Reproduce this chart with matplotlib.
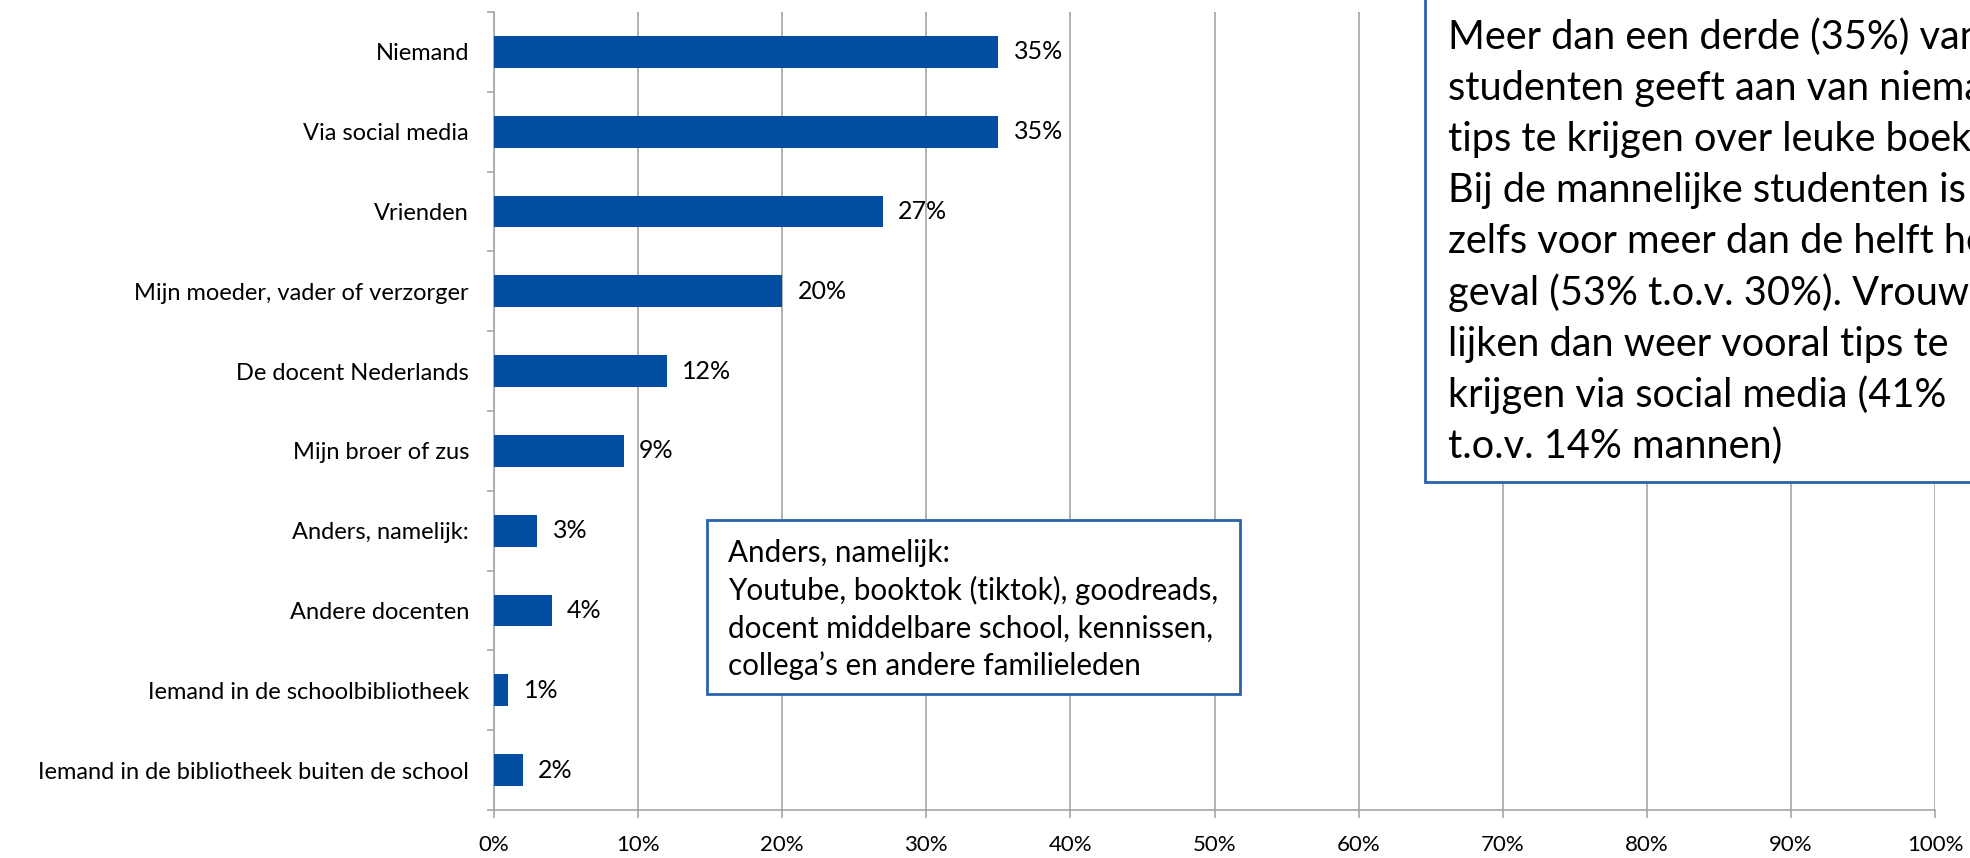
import matplotlib
matplotlib.use("Agg")
import matplotlib.pyplot as plt
from matplotlib.patches import Rectangle
from matplotlib.ticker import FixedLocator, PercentFormatter

# ── Data ───────────────────────────────────────────────────────────────
categories = [
    "Niemand",
    "Via social media",
    "Vrienden",
    "Mijn moeder, vader of verzorger",
    "De docent Nederlands",
    "Mijn broer of zus",
    "Anders, namelijk:",
    "Andere docenten",
    "Iemand in de schoolbibliotheek",
    "Iemand in de bibliotheek buiten de school",
]
percentages = [35, 35, 27, 20, 12, 9, 3, 4, 1, 2]

note_lines = [
    "Meer dan een derde (35%) van",
    "studenten geeft aan van niemand",
    "tips te krijgen over leuke boeken.",
    "Bij de mannelijke studenten is dat",
    "zelfs voor meer dan de helft het",
    "geval (53% t.o.v. 30%). Vrouwen",
    "lijken dan weer vooral tips te",
    "krijgen via social media (41%",
    "t.o.v. 14% mannen)",
]
other_lines = [
    "Anders, namelijk:",
    "Youtube, booktok (tiktok), goodreads,",
    "docent middelbare school, kennissen,",
    "collega’s en andere familieleden",
]

# ── Style ──────────────────────────────────────────────────────────────
BAR_COLOR = "#034EA2"
BOX_EDGE = "#2A62AC"
GRID = "#A6A6A6"
W, H = 1970, 858
plt.rcParams["font.family"] = ["Lato", "DejaVu Sans"]


def fx(px):
    return px / W


def fy(py):
    return 1 - py / H


fig = plt.figure(figsize=(W / 100, H / 100), dpi=100)
ax = fig.add_axes([fx(494), fy(810), fx(1935) - fx(494), fy(12) - fy(810)])

y = list(range(len(categories)))
bars = ax.barh(y, percentages, height=0.4, color=BAR_COLOR, zorder=3)
ax.bar_label(bars, labels=[f"{v}%" for v in percentages], padding=11,
             fontsize=18, color="black")

ax.set_xlim(0, 100)
ax.set_ylim(len(categories) - 0.5, -0.5)
ax.set_yticks(y)
ax.set_yticklabels(categories, fontsize=17)
ax.yaxis.set_minor_locator(FixedLocator([i - 0.5 for i in range(len(categories) + 1)]))
ax.tick_params(axis="y", which="major", length=0, pad=18)
ax.tick_params(axis="y", which="minor", length=5, width=1.2, color=GRID)

ax.set_xticks(range(0, 101, 10))
ax.xaxis.set_major_formatter(PercentFormatter(decimals=0))
ax.tick_params(axis="x", length=6, width=1.2, color=GRID, labelsize=16, pad=12)

ax.grid(axis="x", color=GRID, linewidth=1.2, zorder=0)
for side in ("top", "right"):
    ax.spines[side].set_visible(False)
for side in ("left", "bottom"):
    ax.spines[side].set_color(GRID)
    ax.spines[side].set_linewidth(1.2)

# ── Note box (top right, runs off the canvas like the original) ────────
fig.patches.append(Rectangle((fx(1425), fy(482)), 0.4, 0.7,
                             transform=fig.transFigure, facecolor="white",
                             edgecolor=BOX_EDGE, linewidth=2, zorder=5))
for i, line in enumerate(note_lines):
    fig.text(fx(1448), fy(49 + 51.1 * i), line, fontsize=28.6,
             va="baseline", ha="left", zorder=6)

# ── "Anders" box ───────────────────────────────────────────────────────
fig.patches.append(Rectangle((fx(707), fy(694)), fx(1240) - fx(707), fy(520) - fy(694),
                             transform=fig.transFigure, facecolor="white",
                             edgecolor=BOX_EDGE, linewidth=2, zorder=5))
for i, line in enumerate(other_lines):
    fig.text(fx(728), fy(562 + 37.7 * i), line, fontsize=21.3,
             va="baseline", ha="left", zorder=6)

fig.savefig("out.png", dpi=100)
